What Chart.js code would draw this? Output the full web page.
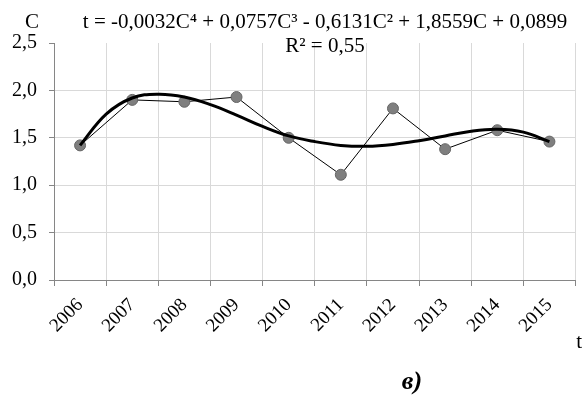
<!DOCTYPE html>
<html>
<head>
<meta charset="utf-8">
<script src="https://cdn.jsdelivr.net/npm/chart.js@4"></script>
<style>
  html, body { margin: 0; padding: 0; background: #fff; }
  #wrap { width: 582px; height: 396px; }
</style>
</head>
<body>
<div id="wrap"><canvas id="myChart" width="582" height="396"></canvas></div>
<script>
// data
const years = ['2006', '2007', '2008', '2009', '2010', '2011', '2012', '2013', '2014', '2015'];
const values = [1.42, 1.90, 1.88, 1.93, 1.50, 1.11, 1.81, 1.38, 1.58, 1.46];

// polynomial trend line at half steps (1 = 2006)
const trendX = [1, 1.5, 2, 2.5, 3, 3.5, 4, 4.5, 5, 5.5, 6, 6.5, 7, 7.5, 8, 8.5, 9, 9.5, 10];
const trendY = [1.42, 1.75, 1.92, 1.96, 1.93, 1.85, 1.74, 1.62, 1.52, 1.46, 1.42, 1.41, 1.43, 1.47, 1.52, 1.57, 1.59, 1.56, 1.46];

const yTicks = [0, 0.5, 1.0, 1.5, 2.0, 2.5];

const equation = 't = -0,0032C\u2074 + 0,0757C\u00b3 - 0,6131C\u00b2 + 1,8559C + 0,0899';
const rSquared = 'R\u00b2 = 0,55';

const serif = 'Liberation Serif';

const canvas = document.getElementById('myChart');
const ctx = canvas.getContext('2d');

// extra labels: axis names, equation, panel letter
const labelsPlugin = {
  id: 'extraLabels',
  afterDraw(chart) {
    const c = chart.ctx;
    const mid = 325;
    c.save();
    c.fillStyle = '#000';
    c.textBaseline = 'alphabetic';
    c.font = '21px "' + serif + '"';
    c.textAlign = 'center';
    c.fillText('C', 32, 28);
    c.fillText(equation, mid, 28);
    c.fillText(rSquared, mid, 52);
    c.textAlign = 'right';
    c.fillText('t', 582, 348);
    c.textAlign = 'center';
    c.font = 'italic bold 26px "' + serif + '"';
    c.fillText('\u0432)', 412, 389);
    c.restore();
  }
};

const pointsTrend = trendX.map((x, i) => ({ x: x, y: trendY[i] }));

const chart = new Chart(ctx, {
  type: 'line',
  data: {
    labels: years,
    datasets: [{
      label: 'C',
      data: values,
      borderColor: '#000',
      borderWidth: 1,
      pointRadius: 5.5,
      pointBackgroundColor: '#7f7f7f',
      pointBorderColor: '#666',
      pointBorderWidth: 1,
      tension: 0,
      order: 2
    }, {
      label: 'trend',
      data: pointsTrend,
      xAxisID: 'x2',
      borderColor: '#000',
      borderWidth: 3,
      pointRadius: 0,
      tension: 0.4,
      order: 1
    }]
  },
  options: {
    responsive: false,
    animation: false,
    layout: { padding: { left: 0, right: 2, top: 43, bottom: 51 } },
    plugins: {
      legend: { display: false },
      tooltip: { enabled: false }
    },
    scales: {
      x: {
        type: 'category',
        offset: true,
        grid: {
          offset: true,
          color: '#d9d9d9',
          tickColor: '#868686',
          tickLength: 6
        },
        border: { color: '#868686', width: 1 },
        ticks: {
          minRotation: 45,
          maxRotation: 45,
          color: '#000',
          padding: 8,
          font: { family: serif, size: 19 }
        }
      },
      x2: {
        type: 'linear',
        display: false,
        min: 0.5,
        max: 10.5
      },
      y: {
        min: 0,
        max: 2.5,
        afterBuildTicks(scale) {
          scale.ticks = yTicks.map(v => ({ value: v }));
        },
        grid: {
          color: (c) => (c.tick && c.tick.value === 2.5) ? 'rgba(0,0,0,0)' : '#d9d9d9',
          tickColor: '#868686',
          tickLength: 5
        },
        border: { color: '#868686', width: 1 },
        ticks: {
          color: '#000',
          padding: 12,
          font: { family: serif, size: 20 },
          callback: (v) => v.toFixed(1).replace('.', ',')
        }
      }
    }
  },
  plugins: [labelsPlugin]
});
</script>
</body>
</html>
